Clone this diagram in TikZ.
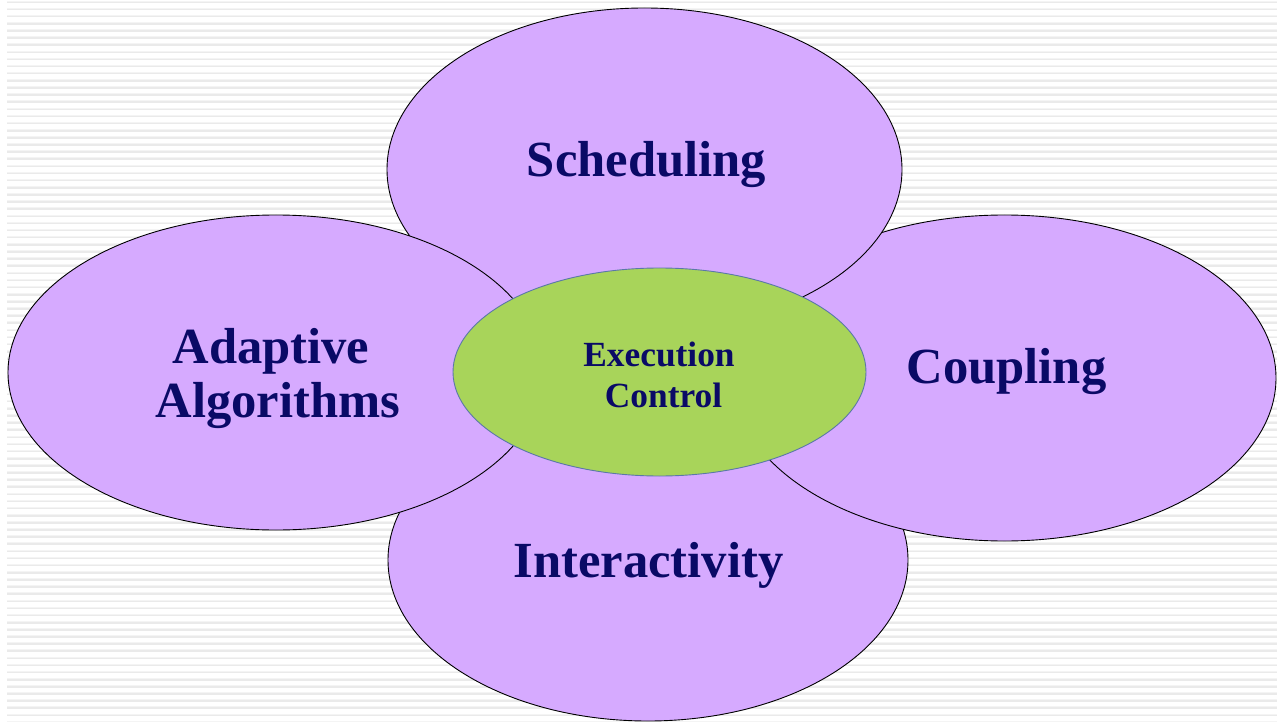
\documentclass[tikz,border=0pt]{standalone}
\usepackage{fontspec}
\setmainfont{Liberation Serif}
\usetikzlibrary{shapes.geometric}
\definecolor{petalfill}{HTML}{D6AAFF}
\definecolor{corefill}{HTML}{A8D45A}
\definecolor{coreline}{HTML}{5A78A8}
\definecolor{navytext}{HTML}{0A0A66}
\definecolor{stripeA}{HTML}{F4F4F4}
\definecolor{stripeB}{HTML}{EAEAEA}
\begin{document}
\begin{tikzpicture}[x=1bp,y=-1bp,
  petal/.style={ellipse, draw=black, line width=0.9bp, fill=petalfill, inner sep=0pt, outer sep=0pt},
  core/.style={ellipse, draw=coreline, line width=0.9bp, fill=corefill, inner sep=0pt, outer sep=0pt},
  bigtext/.style={font=\bfseries\fontsize{50.8}{54}\selectfont, text=navytext, anchor=base, inner sep=0pt},
  smalltext/.style={font=\bfseries\fontsize{35.5}{41}\selectfont, text=navytext, anchor=base, inner sep=0pt}]
\useasboundingbox (0,0) rectangle (1277,722);
\fill[white] (0,0) rectangle (1277,722);
\foreach \i in {0,...,101} {
  \fill[stripeA] (7,{0.6+\i*7.13}) rectangle (1277,{1.6+\i*7.13});
  \fill[stripeB] (7,{1.6+\i*7.13}) rectangle (1277,{3.2+\i*7.13});
}
\begin{scope}
\clip (0,0) rectangle (1277,722);
\node[petal, minimum width=520bp, minimum height=322bp] (inter) at (648,560) {};
\node[petal, minimum width=543bp, minimum height=326bp] (coup) at (1004.5,378) {};
\node[petal, minimum width=515bp, minimum height=323bp] (sched) at (644.5,169.5) {};
\node[petal, minimum width=536bp, minimum height=315bp] (adapt) at (276,372.5) {};
\node[core, minimum width=413bp, minimum height=208bp] (exec) at (659.5,372) {};
\end{scope}
\node[bigtext] (tsched) at (646.5,177) {Scheduling};
\node[bigtext] (tadapt1) at (271,363) {Adaptive};
\node[bigtext] (tadapt2) at (278,417) {Algorithms};
\node[bigtext] (tcoup) at (1006.5,383) {Coupling};
\node[bigtext] (tinter) at (648.5,577) {Interactivity};
\node[smalltext] (texec1) at (659,366) {Execution};
\node[smalltext] (texec2) at (663.5,407) {Control};
\end{tikzpicture}
\end{document}
